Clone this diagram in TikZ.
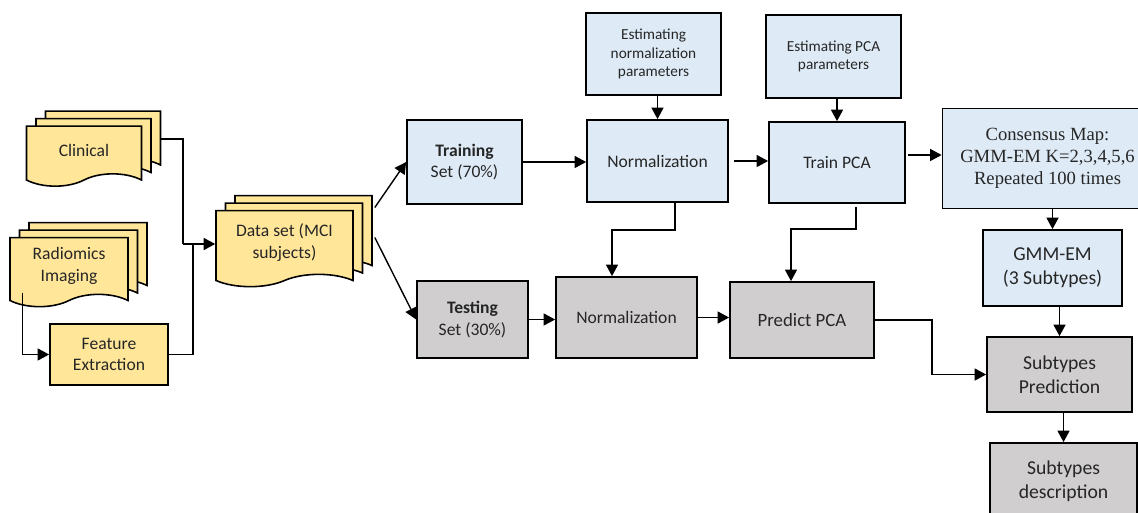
\documentclass[tikz,border=0pt]{standalone}
\usepackage{fontspec}
\setmainfont{Carlito}
\newfontfamily\cambria{Liberation Serif}
\usepackage{xcolor}
\usepackage{tikz}
\usetikzlibrary{arrows.meta,positioning,calc,shapes.symbols,shadows}
\definecolor{docyellow}{HTML}{FFE699}
\definecolor{trainblue}{HTML}{DEEBF7}
\definecolor{testgray}{HTML}{D0CECE}
\definecolor{inktext}{HTML}{262626}

\begin{document}
\begin{tikzpicture}[
  font=\fontsize{10}{12.4}\selectfont, text=inktext,
  box/.style={draw, line width=1pt, inner sep=1pt, align=center},
  doc/.style={draw, line width=0.9pt, fill=docyellow, tape, tape bend top=none, tape bend bottom=in and out,
    tape bend height=7pt, inner sep=1pt, align=center,
    double copy shadow={shadow xshift=0.19cm, shadow yshift=0.15cm}},
  small/.style={font=\fontsize{8.7}{10.5}\selectfont},
  big/.style={font=\fontsize{11.2}{13.6}\selectfont},
  arrow/.style={-{Triangle[length=2.3mm,width=2.4mm]}, line width=0.8pt}
]
\useasboundingbox (0,0) rectangle (22.76,-10.24);
% input documents
\node[doc, minimum width=2.3cm, minimum height=1.2cm] (clinical) at (1.68,-3.0) {Clinical};
\node[doc, minimum width=2.36cm, minimum height=1.38cm] (radiomics) at (1.38,-5.32) {Radiomics\\Imaging};
\node[box, fill=docyellow, minimum width=2.36cm, minimum height=1.22cm] (feature) at (2.18,-7.09) {Feature\\Extraction};
\node[doc, minimum width=2.74cm, minimum height=1.52cm] (dataset) at (5.69,-4.85) {Data set (MCI\\subjects)};
% training branch
\node[box, fill=trainblue, minimum width=2.3cm, minimum height=1.68cm] (training) at (9.29,-3.24) {\textbf{Training}\\Set (70\%)};
\node[box, fill=trainblue, small, minimum width=2.7cm, minimum height=1.64cm] (estnorm) at (13.07,-1.08) {Estimating\\normalization\\parameters};
\node[box, fill=trainblue, minimum width=2.82cm, minimum height=1.64cm] (normtrain) at (13.15,-3.22) {Normalization};
\node[box, fill=trainblue, small, minimum width=2.7cm, minimum height=1.66cm] (estpca) at (16.67,-1.13) {Estimating PCA\\parameters};
\node[box, fill=trainblue, minimum width=2.72cm, minimum height=1.62cm] (trainpca) at (16.74,-3.25) {Train PCA};
\node[box, fill=trainblue, minimum width=4.2cm, minimum height=2.0cm, font=\cambria\fontsize{10.6}{12.4}\selectfont] (consensus) at (20.95,-3.17) {Consensus Map:\\GMM-EM K=2,3,4,5,6\\Repeated 100 times};
\node[box, fill=trainblue, big, minimum width=2.78cm, minimum height=1.52cm] (gmm) at (21.05,-5.36) {GMM-EM\\(3 Subtypes)};
% testing branch
\node[box, fill=testgray, minimum width=2.22cm, minimum height=1.54cm] (testing) at (9.45,-6.39) {\textbf{Testing}\\Set (30\%)};
\node[box, fill=testgray, minimum width=2.82cm, minimum height=1.62cm] (normtest) at (12.53,-6.35) {Normalization};
\node[box, fill=testgray, minimum width=2.88cm, minimum height=1.52cm, font=\fontsize{10.7}{13}\selectfont] (predict) at (16.04,-6.4) {Predict PCA};
\node[box, fill=testgray, big, minimum width=2.9cm, minimum height=1.5cm] (subpred) at (21.19,-7.49) {Subtypes\\Prediction};
\node[box, fill=testgray, big, minimum width=2.94cm, minimum height=1.54cm] (subdesc) at (21.27,-9.63) {Subtypes\\description};
% connectors
\coordinate (merge) at (3.66,-4.88);
\coordinate (join) at (3.86,-4.88);
\draw[line width=0.8pt] ($(clinical.east)+(0.36,0.22)$) -| (merge);
\draw[line width=0.8pt] (feature.east) -| (join);
\draw[arrow] (merge) -- (merge -| dataset.west);
\draw[arrow] ($(radiomics.south west)+(0.26,0.05)$) |- (feature.west);
\draw[arrow] ($(dataset.east)+(0.42,0.7)$) -- (training.west);
\draw[arrow] ($(dataset.east)+(0.42,0.1)$) -- (testing.west);
\draw[arrow] (training.east) -- (training.east -| normtrain.west);
\draw[arrow] (normtrain.north |- estnorm.south) -- (normtrain.north);
\draw[arrow] ($(normtrain.south)+(0.35,0)$) -- ++(0,-0.54) -| ($(normtest.north)+(-0.29,0)$);
\draw[arrow] (testing.east) -- (testing.east -| normtest.west);
\draw[arrow, shorten <=1mm] (normtrain.east) -- (normtrain.east -| trainpca.west);
\draw[arrow] (normtest.east) -- (normtest.east -| predict.west);
\draw[arrow] (trainpca.north |- estpca.south) -- (trainpca.north);
\draw[arrow] ($(trainpca.south)+(0.38,-0.06)$) -- ++(0,-0.44) -| ($(predict.north)+(-0.22,0)$);
\draw[arrow] ($(trainpca.east)+(0.04,0.15)$) coordinate (tp) -- (tp -| consensus.west);
\draw[arrow] (gmm.north |- consensus.south) -- (gmm.north);
\draw[arrow] (subpred.north |- gmm.south) -- (subpred.north);
\draw[arrow] (predict.east) -- ++(1.14,0) |- (subpred.west);
\draw[arrow] (subdesc.north |- subpred.south) -- (subdesc.north);
\end{tikzpicture}
\end{document}
